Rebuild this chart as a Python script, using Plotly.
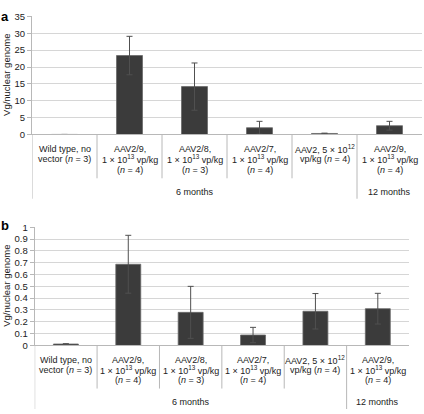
import plotly.graph_objects as go

# ---------------- data ----------------
categories = ["Wild type, no vector (n = 3)",
              "AAV2/9, 1e13 vp/kg (n = 4) 6m",
              "AAV2/8, 1e13 vp/kg (n = 3)",
              "AAV2/7, 1e13 vp/kg (n = 4)",
              "AAV2, 5e12 vp/kg (n = 4)",
              "AAV2/9, 1e13 vp/kg (n = 4) 12m"]
category_labels = [
    "Wild type, no<br>vector (<i>n</i> = 3)",
    "AAV2/9,<br>1 × 10<sup>13</sup> vp/kg<br>(<i>n</i> = 4)",
    "AAV2/8,<br>1 × 10<sup>13</sup> vp/kg<br>(<i>n</i> = 3)",
    "AAV2/7,<br>1 × 10<sup>13</sup> vp/kg<br>(<i>n</i> = 4)",
    "AAV2, 5 × 10<sup>12</sup><br>vp/kg (<i>n</i> = 4)",
    "AAV2/9,<br>1 × 10<sup>13</sup> vp/kg<br>(<i>n</i> = 4)",
]
group_labels = ["6 months", "12 months"]
group_centers = [2, 5]          # category index at group centre

values_a = [0.01, 23.4, 14.2, 2.0, 0.3, 2.6]
errors_a = [0.0, 5.7, 7.0, 1.9, 0.1, 1.3]
ticks_a = [0, 5, 10, 15, 20, 25, 30, 35]

values_b = [0.012, 0.687, 0.28, 0.088, 0.289, 0.311]
errors_b = [0.003, 0.245, 0.22, 0.065, 0.15, 0.13]
ticks_b = [0, 0.1, 0.2, 0.3, 0.4, 0.5, 0.6, 0.7, 0.8, 0.9, 1]

# ---------------- layout helpers ----------------
W, H = 424, 414
FONT = "Liberation Sans, Arial, sans-serif"
BAR = "#3b3b3b"
GRID = "#d6d6d6"
AXIS = "#b8b8b8"
TXT = "#222222"
LINE_H = 10.6


def py(pix):
    return 1 - pix / H


panels = [
    dict(vals=values_a, errs=errors_a, ticks=ticks_a, rng=[0, 35],
         x0=32, x1=422, ytop=10.7, ybot=132, lab_first=146.8, sep_bot=177,
         grp_y=191, grp_bot=198, letter="a", letter_y=10.5),
    dict(vals=values_b, errs=errors_b, ticks=ticks_b, rng=[0, 1],
         x0=34.7, x1=409, ytop=227.3, ybot=348.7, lab_first=363.4, sep_bot=393,
         grp_y=406.5, grp_bot=414, letter="b", letter_y=225),
]

fig = go.Figure()
annotations = []
shapes = []

for i, p in enumerate(panels):
    sfx = "" if i == 0 else str(i + 1)
    xa, ya = "x" + sfx, "y" + sfx
    fig.add_trace(go.Bar(
        x=categories, y=p["vals"], xaxis=xa, yaxis=ya,
        marker=dict(color=BAR, line=dict(color="#6a6a6a", width=0.8)),
        error_y=dict(type="data", array=p["errs"], visible=True,
                     color="#505050", thickness=1, width=3),
        showlegend=False, hoverinfo="skip"))

    fig.layout["xaxis" + sfx] = dict(
        domain=[p["x0"] / W, p["x1"] / W], anchor=ya,
        type="category", range=[-0.5, 5.5], showticklabels=False,
        showline=True, linecolor=AXIS, linewidth=1, ticks="",
        showgrid=False, zeroline=False, fixedrange=True)
    fig.layout["yaxis" + sfx] = dict(
        domain=[py(p["ybot"]), py(p["ytop"])], anchor=xa,
        range=p["rng"], tickvals=p["ticks"],
        showline=True, linecolor=AXIS, linewidth=1,
        ticks="outside", ticklen=4, tickcolor=AXIS,
        showgrid=True, gridcolor=GRID, gridwidth=1, zeroline=False,
        tickfont=dict(family=FONT, size=9.5, color=TXT), fixedrange=True)

    # category labels, one annotation per line for exact line spacing
    for c, lab in zip(categories, category_labels):
        for k, line in enumerate(lab.split("<br>")):
            annotations.append(dict(
                x=c, y=py(p["lab_first"] + k * LINE_H), xref=xa, yref="paper",
                text=line, showarrow=False, yanchor="middle", xanchor="center",
                font=dict(family=FONT, size=9, color=TXT)))
    # group labels
    for g, gc in zip(group_labels, group_centers):
        annotations.append(dict(
            x=gc, y=py(p["grp_y"]), xref=xa, yref="paper",
            text=g, showarrow=False, yanchor="middle", xanchor="center",
            font=dict(family=FONT, size=9, color=TXT)))
    # separators between categories
    for b in [0.5, 1.5, 2.5, 3.5]:
        shapes.append(dict(type="line", xref=xa, yref="paper", x0=b, x1=b,
                           y0=py(p["ybot"]), y1=py(p["sep_bot"]),
                           line=dict(color=AXIS, width=1)))
    for b in [-0.5, 4.5]:
        shapes.append(dict(type="line", xref=xa, yref="paper", x0=b, x1=b,
                           y0=py(p["ybot"]), y1=py(p["grp_bot"]),
                           line=dict(color=AXIS, width=1)))
    # y title
    annotations.append(dict(
        x=6.5 / W, y=py((p["ytop"] + p["ybot"]) / 2), xref="paper", yref="paper",
        text="Vg/nuclear genome", textangle=-90, showarrow=False,
        xanchor="center", yanchor="middle",
        font=dict(family=FONT, size=9.5, color=TXT)))
    # panel letter
    annotations.append(dict(
        x=5 / W, y=py(p["letter_y"]), xref="paper", yref="paper",
        text="<b>%s</b>" % p["letter"], showarrow=False,
        xanchor="center", yanchor="middle",
        font=dict(family=FONT, size=13, color="#000")))

fig.update_layout(
    width=W, height=H, margin=dict(l=0, r=0, t=0, b=0),
    paper_bgcolor="white", plot_bgcolor="white",
    bargap=0.6, annotations=annotations, shapes=shapes,
    font=dict(family=FONT, color=TXT))

fig.write_html("out.html",
               config={"displayModeBar": False, "staticPlot": True},
               post_script="document.body.style.margin='0';"
                           "document.body.style.padding='0';"
                           "document.body.style.overflow='hidden';")
